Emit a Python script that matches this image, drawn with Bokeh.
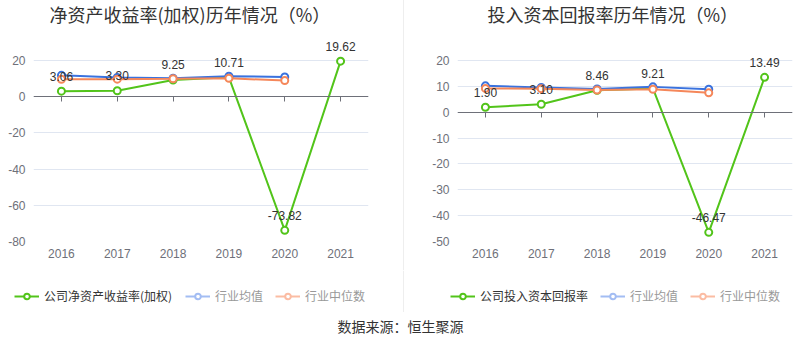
from bokeh.plotting import figure
from bokeh.models import (ColumnDataSource, LabelSet, Label, Legend, LegendItem,
                          CategoricalAxis, Div, FixedTicker, Range1d, FactorRange,
                          Span)
from bokeh.layouts import row, column
from bokeh.embed import file_html
from bokeh.resources import INLINE
from bokeh.core.properties import value

# ---------------- data ----------------
years = ["2016", "2017", "2018", "2019", "2020", "2021"]
industry_years = ["2016", "2017", "2018", "2019", "2020"]

roe_company = [3.06, 3.30, 9.25, 10.71, -73.82, 19.62]
roe_avg = [11.8, 10.6, 10.2, 11.3, 10.9]
roe_median = [9.6, 9.7, 9.9, 10.2, 8.9]

roic_company = [1.90, 3.10, 8.46, 9.21, -46.47, 13.49]
roic_avg = [10.2, 9.6, 9.0, 9.8, 8.9]
roic_median = [9.2, 9.1, 8.6, 8.9, 7.5]

roe_ticks = [-80, -60, -40, -20, 0, 20]
roic_ticks = [-50, -40, -30, -20, -10, 0, 10, 20]

roe_title = "净资产收益率(加权)历年情况（%）"
roic_title = "投入资本回报率历年情况（%）"
roe_names = ["公司净资产收益率(加权)", "行业均值", "行业中位数"]
roic_names = ["公司投入资本回报率", "行业均值", "行业中位数"]
source_text = "数据来源：恒生聚源"

# ---------------- style ----------------
LATIN = "'Liberation Sans', 'Noto Sans CJK SC', sans-serif"
CJK = "'Noto Sans CJK SC', 'Liberation Sans', sans-serif"
GREEN = "#52c41a"
BLUE = "#3a72de"
ORANGE = "#f5875a"
BLUE_F = "#a3bdf3"
ORANGE_F = "#fbbca3"
AXIS_TXT = "#6e7079"
GRID = "#e0e6f1"
SEP = "#eeeeee"

CHART_H = 270        # chart figure height
TOP_PX = 60          # space between figure top and the top gridline
GRID_PX = 181        # height between top and bottom gridline
LEG_STRIP_H = 42
SRC_H = 40
LEG_H = 14


def make_chart(title, title_x, company, avg, median, y_lo, y_hi, ticks,
               width, border_left, border_right):
    scale = GRID_PX / (y_hi - y_lo)
    y_top = y_hi + TOP_PX / scale
    frame_h = TOP_PX + GRID_PX
    p = figure(x_range=FactorRange(*years), y_range=Range1d(y_lo, y_top),
               width=width, height=CHART_H, output_backend="svg",
               toolbar_location=None, tools="",
               min_border_left=border_left, min_border_right=border_right,
               min_border_top=0, min_border_bottom=CHART_H - frame_h)
    p.outline_line_color = None
    p.border_fill_color = "white"
    p.background_fill_color = "white"

    # y axis
    p.yaxis.ticker = FixedTicker(ticks=ticks)
    p.yaxis.major_label_overrides = {t: str(t) for t in ticks}
    p.yaxis.axis_line_color = None
    p.yaxis.major_tick_line_color = None
    p.yaxis.minor_tick_line_color = None
    p.yaxis.major_tick_out = 0
    p.yaxis.major_tick_in = 0
    p.yaxis.major_label_text_color = AXIS_TXT
    p.yaxis.major_label_text_font = LATIN
    p.yaxis.major_label_text_font_size = "12px"
    p.yaxis.major_label_standoff = 8
    p.ygrid.ticker = FixedTicker(ticks=ticks)
    p.ygrid.grid_line_color = GRID
    p.xgrid.grid_line_color = None

    # bottom x axis: labels only
    xa = p.xaxis[0]
    xa.axis_line_color = None
    xa.major_tick_line_color = None
    xa.minor_tick_line_color = None
    xa.major_tick_out = 0
    xa.major_tick_in = 0
    xa.major_label_text_color = AXIS_TXT
    xa.major_label_text_font = LATIN
    xa.major_label_text_font_size = "12px"
    xa.major_label_standoff = 7

    # axis line with ticks on the zero line
    zax = CategoricalAxis(fixed_location=0, axis_line_color=AXIS_TXT,
                          major_tick_line_color=AXIS_TXT, major_tick_in=0,
                          major_tick_out=5, major_label_text_color=None,
                          major_label_standoff=0)
    p.add_layout(zax, "below")

    src_c = ColumnDataSource(dict(x=years, y=company,
                                  lab=["%.2f" % v for v in company]))
    src_a = ColumnDataSource(dict(x=industry_years, y=avg))
    src_m = ColumnDataSource(dict(x=industry_years, y=median))

    for src, col in ((src_c, GREEN), (src_a, BLUE), (src_m, ORANGE)):
        p.line("x", "y", source=src, color=col, line_width=2)
        p.scatter("x", "y", source=src, marker="circle", size=7,
                  fill_color="white", line_color=col, line_width=2)

    labels = LabelSet(x="x", y="y", text="lab", source=src_c, y_offset=15,
                      text_align="center", text_baseline="middle",
                      text_font=value("Liberation Sans"), text_font_size="12px",
                      text_color="#333333")
    p.add_layout(labels)

    ttl = Label(x=title_x, y=frame_h - 13, x_units="screen", y_units="screen",
                text=title, text_align="left", text_baseline="middle",
                text_font=CJK, text_font_size="18px", text_color="#333333")
    p.add_layout(ttl)
    return p


left = make_chart(roe_title, 16, roe_company, roe_avg, roe_median, -80, 20,
                  roe_ticks, 403, 33, 35)
right = make_chart(roic_title, 30, roic_company, roic_avg, roic_median, -50, 20,
                   roic_ticks, 396, 53, 8)

sep = Div(text="", width=1, height=CHART_H, margin=0,
          styles={"background-color": SEP})

# ---------------- legend strip ----------------
lg = figure(width=800, height=LEG_STRIP_H, x_range=Range1d(0, 800),
            y_range=Range1d(0, LEG_STRIP_H), output_backend="svg",
            toolbar_location=None, tools="", min_border=0)
lg.axis.visible = False
lg.grid.grid_line_color = None
lg.outline_line_color = None
lg.add_layout(Span(location=403, dimension="height", line_color=SEP,
                   line_width=1))

nan = float("nan")


def proxy(col):
    # one undrawable point, so the legend can read the glyph style
    lr = lg.line(x=[nan], y=[nan], color=col, line_width=2)
    sr = lg.scatter(x=[nan], y=[nan], marker="circle", size=10,
                    fill_color="white", line_color=col, line_width=2)
    return [lr, sr]


common = dict(orientation="horizontal", label_text_font=CJK,
              label_text_font_size="12px", glyph_width=25,
              glyph_height=LEG_H, label_height=LEG_H, label_standoff=5,
              padding=0, margin=0, border_line_color=None,
              background_fill_alpha=0, spacing=12)

for names, x_main, x_ind in ((roe_names, 14, 185), (roic_names, 450, 600)):
    leg_main = Legend(items=[LegendItem(label=names[0], renderers=proxy(GREEN))],
                      location=(x_main, 8), label_text_color="#333333", **common)
    leg_ind = Legend(items=[LegendItem(label=names[1], renderers=proxy(BLUE_F)),
                            LegendItem(label=names[2], renderers=proxy(ORANGE_F))],
                     location=(x_ind, 8), label_text_color="#999999", **common)
    lg.add_layout(leg_main, "center")
    lg.add_layout(leg_ind, "center")

# ---------------- source line ----------------
src_fig = figure(width=800, height=SRC_H, x_range=Range1d(0, 1), y_range=Range1d(0, 1),
                 output_backend="svg", toolbar_location=None, tools="",
                 min_border=0)
src_fig.axis.visible = False
src_fig.grid.grid_line_color = None
src_fig.outline_line_color = None
src_fig.add_layout(Label(x=400, y=27, x_units="screen", y_units="screen",
                         text=source_text, text_align="center",
                         text_baseline="middle", text_font=CJK,
                         text_font_size="14px", text_color="#333333"))

layout = column(row(left, sep, right, spacing=0), lg, src_fig, spacing=0)

open("out.html", "w").write(file_html(layout, INLINE))
